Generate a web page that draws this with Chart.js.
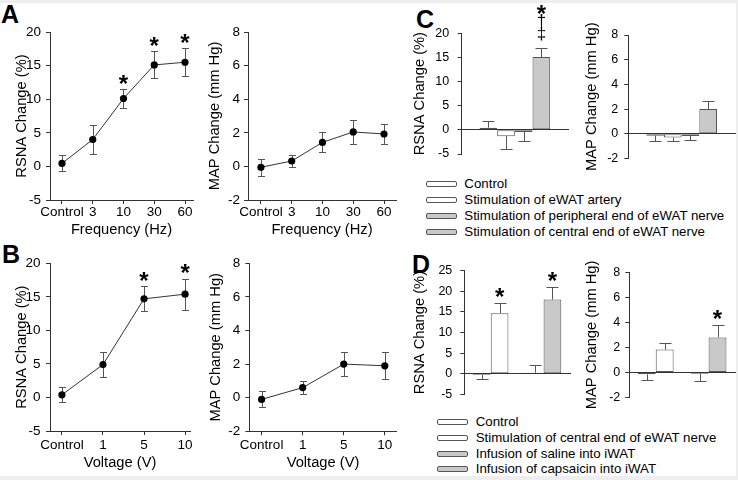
<!DOCTYPE html>
<html><head><meta charset="utf-8">
<script src="https://cdn.jsdelivr.net/npm/chart.js@4.4.1/dist/chart.umd.min.js"></script>
<style>
body{margin:0;background:#fff;width:738px;height:480px;position:relative;overflow:hidden;font-family:'Liberation Sans',Arial,sans-serif;}
canvas{position:absolute;}
.strip{position:absolute;background:#eeeeee;}
.lbl{position:absolute;font-weight:bold;font-size:25px;line-height:25px;color:#000;}
.leg{position:absolute;left:0;top:0;font-size:13.3px;color:#000;}
.row{position:absolute;height:16px;line-height:16px;white-space:nowrap;}
.sw{position:absolute;top:5px;width:29px;height:4px;border:1px solid #555;border-radius:2px;}
</style></head>
<body>
<div class="strip" style="left:0;top:0;width:738px;height:3px"></div>
<div class="strip" style="left:0;top:476px;width:738px;height:4px"></div>
<div class="strip" style="left:736px;top:0;width:2px;height:480px"></div>
<div class="lbl" style="left:1px;top:1.7px">A</div>
<div class="lbl" style="left:2px;top:241.7px">B</div>
<div class="lbl" style="left:416px;top:6.7px">C</div>
<div class="lbl" style="left:412px;top:251.7px">D</div>
<script>
// ---------------- data ----------------
const catsA = ['Control', '3', '10', '30', '60'];
const rsnaA = [0.45, 4.0, 10.1, 15.1, 15.5];
const rsnaAErr = [1.2, 2.2, 1.4, 2.0, 2.1];
const rsnaAMarks = ['', '', '*', '*', '*'];
const mapA = [-0.05, 0.32, 1.43, 2.05, 1.93];
const mapAErr = [0.5, 0.38, 0.6, 0.7, 0.6];
const mapAMarks = ['', '', '', '', ''];

const catsB = ['Control', '1', '5', '10'];
const rsnaB = [0.4, 4.9, 14.7, 15.4];
const rsnaBErr = [1.15, 1.9, 1.85, 2.3];
const rsnaBMarks = ['', '', '*', '*'];
const mapB = [-0.1, 0.6, 2.0, 1.9];
const mapBErr = [0.48, 0.38, 0.7, 0.8];
const mapBMarks = ['', '', '', ''];

const seriesC = ['Control', 'Stimulation of eWAT artery', 'Stimulation of peripheral end of eWAT nerve', 'Stimulation of central end of eWAT nerve'];
const rsnaC = [0.45, -1.3, -0.45, 15.1];
const rsnaCErr = [1.3, 2.6, 1.95, 1.95];
const rsnaCMarks = ['', '', '', '*\u2020\u2021'];
const mapC = [-0.15, -0.3, -0.18, 2.0];
const mapCErr = [0.4, 0.3, 0.35, 0.65];
const mapCMarks = ['', '', '', ''];

const seriesD = ['Control', 'Stimulation of central end of eWAT nerve', 'Infusion of saline into iWAT', 'Infusion of capsaicin into iWAT'];
const groupD = [0, 0, 1, 1];
const rsnaD = [-0.25, 14.7, 0.3, 18.0];
const rsnaDErr = [1.0, 2.5, 1.9, 3.1];
const rsnaDMarks = ['', '*', '', '*'];
const mapD = [-0.15, 1.83, -0.1, 2.8];
const mapDErr = [0.45, 0.5, 0.6, 1.0];
const mapDMarks = ['', '', '', '*'];

const rsnaTitle = 'RSNA Change (%)';
const mapTitle = 'MAP Change (mm Hg)';
const freqTitle = 'Frequency (Hz)';
const voltTitle = 'Voltage (V)';

// ---------------- styles ----------------
const FONT = "'Liberation Sans', Arial, sans-serif";
const AX = '#333333';
const WHITE = '#ffffff', GRAY = '#c9c9c9';
const fillsC = [WHITE, WHITE, GRAY, GRAY];
const fillsD = [WHITE, WHITE, GRAY, GRAY];
Chart.defaults.font.family = FONT;

// ---------------- error bar + marks plugin ----------------
function drawMarks(ctx, x, yTop, text) {
  let cursor = yTop - 5;
  Array.from(text).reverse().forEach(ch => {
    const star = ch === '*';
    ctx.font = star ? 'bold 24px ' + FONT : '17px ' + FONT;
    const m = ctx.measureText(ch);
    const center = star ? cursor - 5 : cursor - 8.5;
    const base = center + (m.actualBoundingBoxAscent - m.actualBoundingBoxDescent) / 2;
    ctx.fillText(ch, x, base);
    cursor -= 14;
  });
}
function drawErrors(chart, o) {
  const ctx = chart.ctx, ys = chart.scales.y;
  chart.data.datasets.forEach((ds, di) => {
    const meta = chart.getDatasetMeta(di);
    ds.data.forEach((d, i) => {
      const v = (d !== null && typeof d === 'object') ? d.y : d;
      if (v === null || v === undefined) return;
      const e = ds.errors[i];
      const el = meta.data[i];
      const x = Math.round(el.x) + 0.5;
      const pv = ys.getPixelForValue(v);
      const ends = o.both ? [v + e, v - e] : [v >= 0 ? v + e : v - e];
      ctx.save();
      ctx.strokeStyle = o.color; ctx.lineWidth = 1;
      ends.forEach(t => {
        const py = Math.round(ys.getPixelForValue(t)) + 0.5;
        ctx.beginPath();
        ctx.moveTo(x, pv); ctx.lineTo(x, py);
        ctx.moveTo(x - o.cap, py); ctx.lineTo(x + o.cap, py);
        ctx.stroke();
      });
      const mk = ds.marks && ds.marks[i];
      if (mk) {
        ctx.fillStyle = '#000'; ctx.textAlign = 'center'; ctx.textBaseline = 'alphabetic';
        drawMarks(ctx, el.x, ys.getPixelForValue(v + e), mk);
      }
      ctx.restore();
    });
  });
}
const errorBars = {
  id: 'errorBars',
  beforeDatasetsDraw(chart, args, o) { if (o.under) drawErrors(chart, o); },
  afterDatasetsDraw(chart, args, o) { if (!o.under) drawErrors(chart, o); }
};
Chart.register(errorBars);

// ---------------- helpers ----------------
function makeCanvas(left, top, w, h) {
  const c = document.createElement('canvas');
  c.width = w; c.height = h;
  c.style.left = left + 'px'; c.style.top = top + 'px';
  c.style.width = w + 'px'; c.style.height = h + 'px';
  document.body.appendChild(c);
  return c;
}
function yAxis(min, max, step, title, width, tickSize, pad) {
  return {
    type: 'linear', position: 'left', min: min, max: max,
    ticks: { stepSize: step, color: '#000', font: { family: FONT, size: tickSize }, padding: pad },
    grid: { display: true, drawOnChartArea: false, drawTicks: true, tickLength: 4, color: AX },
    border: { display: true, color: AX, width: 1 },
    title: { display: true, text: title, color: '#000', font: { family: FONT, size: 14.7 }, padding: 0 },
    afterFit: s => { s.width = width; }
  };
}
function xLineAxis(cats, min, max, title, height, pad) {
  return {
    type: 'linear', position: 'bottom', min: min, max: max,
    afterBuildTicks: s => { s.ticks = cats.map((c, i) => ({ value: i })); },
    ticks: { callback: (v, i) => cats[i], color: '#000', font: { family: FONT, size: 13.5 }, padding: pad, maxRotation: 0, autoSkip: false },
    grid: { display: true, drawOnChartArea: false, drawTicks: true, tickLength: 4, color: AX },
    border: { display: true, color: AX, width: 1 },
    title: { display: true, text: title, color: '#000', font: { family: FONT, size: 14.7 }, padding: 0 },
    afterFit: s => { s.height = height; }
  };
}
function lineChart(cfg) {
  const c = makeCanvas(cfg.left, cfg.top, cfg.w, cfg.h);
  new Chart(c, {
    type: 'line',
    data: { datasets: [{
      data: cfg.vals.map((v, i) => ({ x: i, y: v })),
      errors: cfg.err, marks: cfg.marks,
      borderColor: AX, borderWidth: 1, tension: 0,
      pointRadius: 3.6, pointBackgroundColor: '#000', pointBorderWidth: 0, pointHoverRadius: 3.6
    }] },
    options: {
      responsive: false, animation: false, devicePixelRatio: 1,
      layout: { padding: cfg.padding, autoPadding: false },
      plugins: { legend: { display: false }, tooltip: { enabled: false },
        errorBars: { under: true, both: true, cap: 3.5, color: '#555' } },
      scales: {
        x: xLineAxis(cfg.cats, cfg.xmin, cfg.xmax, cfg.xTitle, cfg.xh, cfg.xpad),
        y: yAxis(cfg.ymin, cfg.ymax, cfg.ystep, cfg.yTitle, cfg.yw, 13.5, cfg.ypad)
      }
    }
  });
}
function barChart(cfg) {
  const c = makeCanvas(cfg.left, cfg.top, cfg.w, cfg.h);
  const nCat = cfg.groups ? Math.max(...cfg.groups) + 1 : 1;
  const datasets = cfg.series.map((lab, si) => {
    const g = cfg.groups ? cfg.groups[si] : 0;
    const data = [], errs = [], marks = [];
    for (let k = 0; k < nCat; k++) {
      data.push(k === g ? cfg.vals[si] : null);
      errs.push(k === g ? cfg.err[si] : null);
      marks.push(k === g ? cfg.marks[si] : '');
    }
    return {
      label: lab, data: data, errors: errs, marks: marks,
      backgroundColor: cfg.fills[si], borderColor: '#555', borderWidth: 1, borderSkipped: false,
      barPercentage: 1, categoryPercentage: cfg.catPct, skipNull: true
    };
  });
  new Chart(c, {
    type: 'bar',
    data: { labels: Array.from({ length: nCat }, () => ''), datasets: datasets },
    options: {
      responsive: false, animation: false, devicePixelRatio: 1,
      layout: { padding: cfg.padding, autoPadding: false },
      plugins: { legend: { display: false }, tooltip: { enabled: false },
        errorBars: { under: false, both: false, cap: 6, color: '#555' } },
      scales: {
        x: {
          type: 'category', position: { y: 0 }, offset: true,
          ticks: { display: false },
          grid: { display: true, drawOnChartArea: false, drawTicks: false },
          border: { display: true, color: AX, width: 1 }
        },
        y: yAxis(cfg.ymin, cfg.ymax, cfg.ystep, cfg.yTitle, cfg.yw, 12.5, cfg.ypad)
      }
    }
  });
}
function legend(series, fills, swLeft, textLeft, firstCenter, step) {
  const box = document.createElement('div');
  box.className = 'leg';
  series.forEach((s, i) => {
    const row = document.createElement('div');
    row.className = 'row';
    row.style.left = '0px';
    row.style.top = (firstCenter + step * i - 8) + 'px';
    const sw = document.createElement('div');
    sw.className = 'sw';
    sw.style.left = swLeft + 'px';
    sw.style.background = fills[i];
    const tx = document.createElement('span');
    tx.style.position = 'absolute';
    tx.style.left = textLeft + 'px';
    tx.textContent = s;
    row.appendChild(sw); row.appendChild(tx);
    box.appendChild(row);
  });
  document.body.appendChild(box);
}

// ---------------- panels ----------------
lineChart({ left: 0, top: 0, w: 200, h: 239, padding: { left: 13.2, top: 32, right: 7, bottom: 0 },
  cats: catsA, vals: rsnaA, err: rsnaAErr, marks: rsnaAMarks, xmin: -0.39, xmax: 4.26, xTitle: freqTitle, xh: 39, xpad: 0,
  ymin: -5, ymax: 20, ystep: 5, yTitle: rsnaTitle, yw: 36.8, ypad: 5 });
lineChart({ left: 200, top: 0, w: 200, h: 239, padding: { left: 6.2, top: 32, right: 4, bottom: 0 },
  cats: catsA, vals: mapA, err: mapAErr, marks: mapAMarks, xmin: -0.42, xmax: 4.39, xTitle: freqTitle, xh: 39, xpad: 0,
  ymin: -2, ymax: 8, ystep: 2, yTitle: mapTitle, yw: 41.8, ypad: 4 });
lineChart({ left: 0, top: 240, w: 200, h: 232, padding: { left: 13.2, top: 23.3, right: 10, bottom: 0 },
  cats: catsB, vals: rsnaB, err: rsnaBErr, marks: rsnaBMarks, xmin: -0.29, xmax: 3.12, xTitle: voltTitle, xh: 41, xpad: 2,
  ymin: -5, ymax: 20, ystep: 5, yTitle: rsnaTitle, yw: 36.8, ypad: 5.5 });
lineChart({ left: 200, top: 240, w: 200, h: 232, padding: { left: 7.2, top: 23.3, right: 3.3, bottom: 0 },
  cats: catsB, vals: mapB, err: mapBErr, marks: mapBMarks, xmin: -0.3, xmax: 3.29, xTitle: voltTitle, xh: 40.7, xpad: 2,
  ymin: -2, ymax: 8, ystep: 2, yTitle: mapTitle, yw: 42.1, ypad: 5 });

barChart({ left: 400, top: 0, w: 175, h: 170, padding: { left: 11.2, top: 33.3, right: 7, bottom: 5 },
  series: seriesC, vals: rsnaC, err: rsnaCErr, marks: rsnaCMarks, fills: fillsC, catPct: 0.665,
  ymin: -5, ymax: 20, ystep: 5, yTitle: rsnaTitle, yw: 50.5, ypad: 8.5 });
barChart({ left: 575, top: 0, w: 163, h: 172, padding: { left: 7.7, top: 35, right: 3, bottom: 5.3 },
  series: seriesC, vals: mapC, err: mapCErr, marks: mapCMarks, fills: fillsC, catPct: 0.663,
  ymin: -2, ymax: 8, ystep: 2, yTitle: mapTitle, yw: 45.6, ypad: 6 });
barChart({ left: 400, top: 250, w: 175, h: 160, padding: { left: 11.2, top: 20.7, right: 5, bottom: 10 },
  series: seriesD, groups: groupD, vals: rsnaD, err: rsnaDErr, marks: rsnaDMarks, fills: fillsD, catPct: 0.67,
  ymin: -5, ymax: 25, ystep: 5, yTitle: rsnaTitle, yw: 53.1, ypad: 8 });
barChart({ left: 575, top: 250, w: 163, h: 160, padding: { left: 8.2, top: 22.3, right: 3, bottom: 8.1 },
  series: seriesD, groups: groupD, vals: mapD, err: mapDErr, marks: mapDMarks, fills: fillsD, catPct: 0.677,
  ymin: -2, ymax: 8, ystep: 2, yTitle: mapTitle, yw: 46.1, ypad: 5 });

legend(seriesC, fillsC, 426, 464.3, 184, 16.1);
legend(seriesD, fillsD, 437.3, 475.7, 421.7, 15.9);
</script>
</body></html>
